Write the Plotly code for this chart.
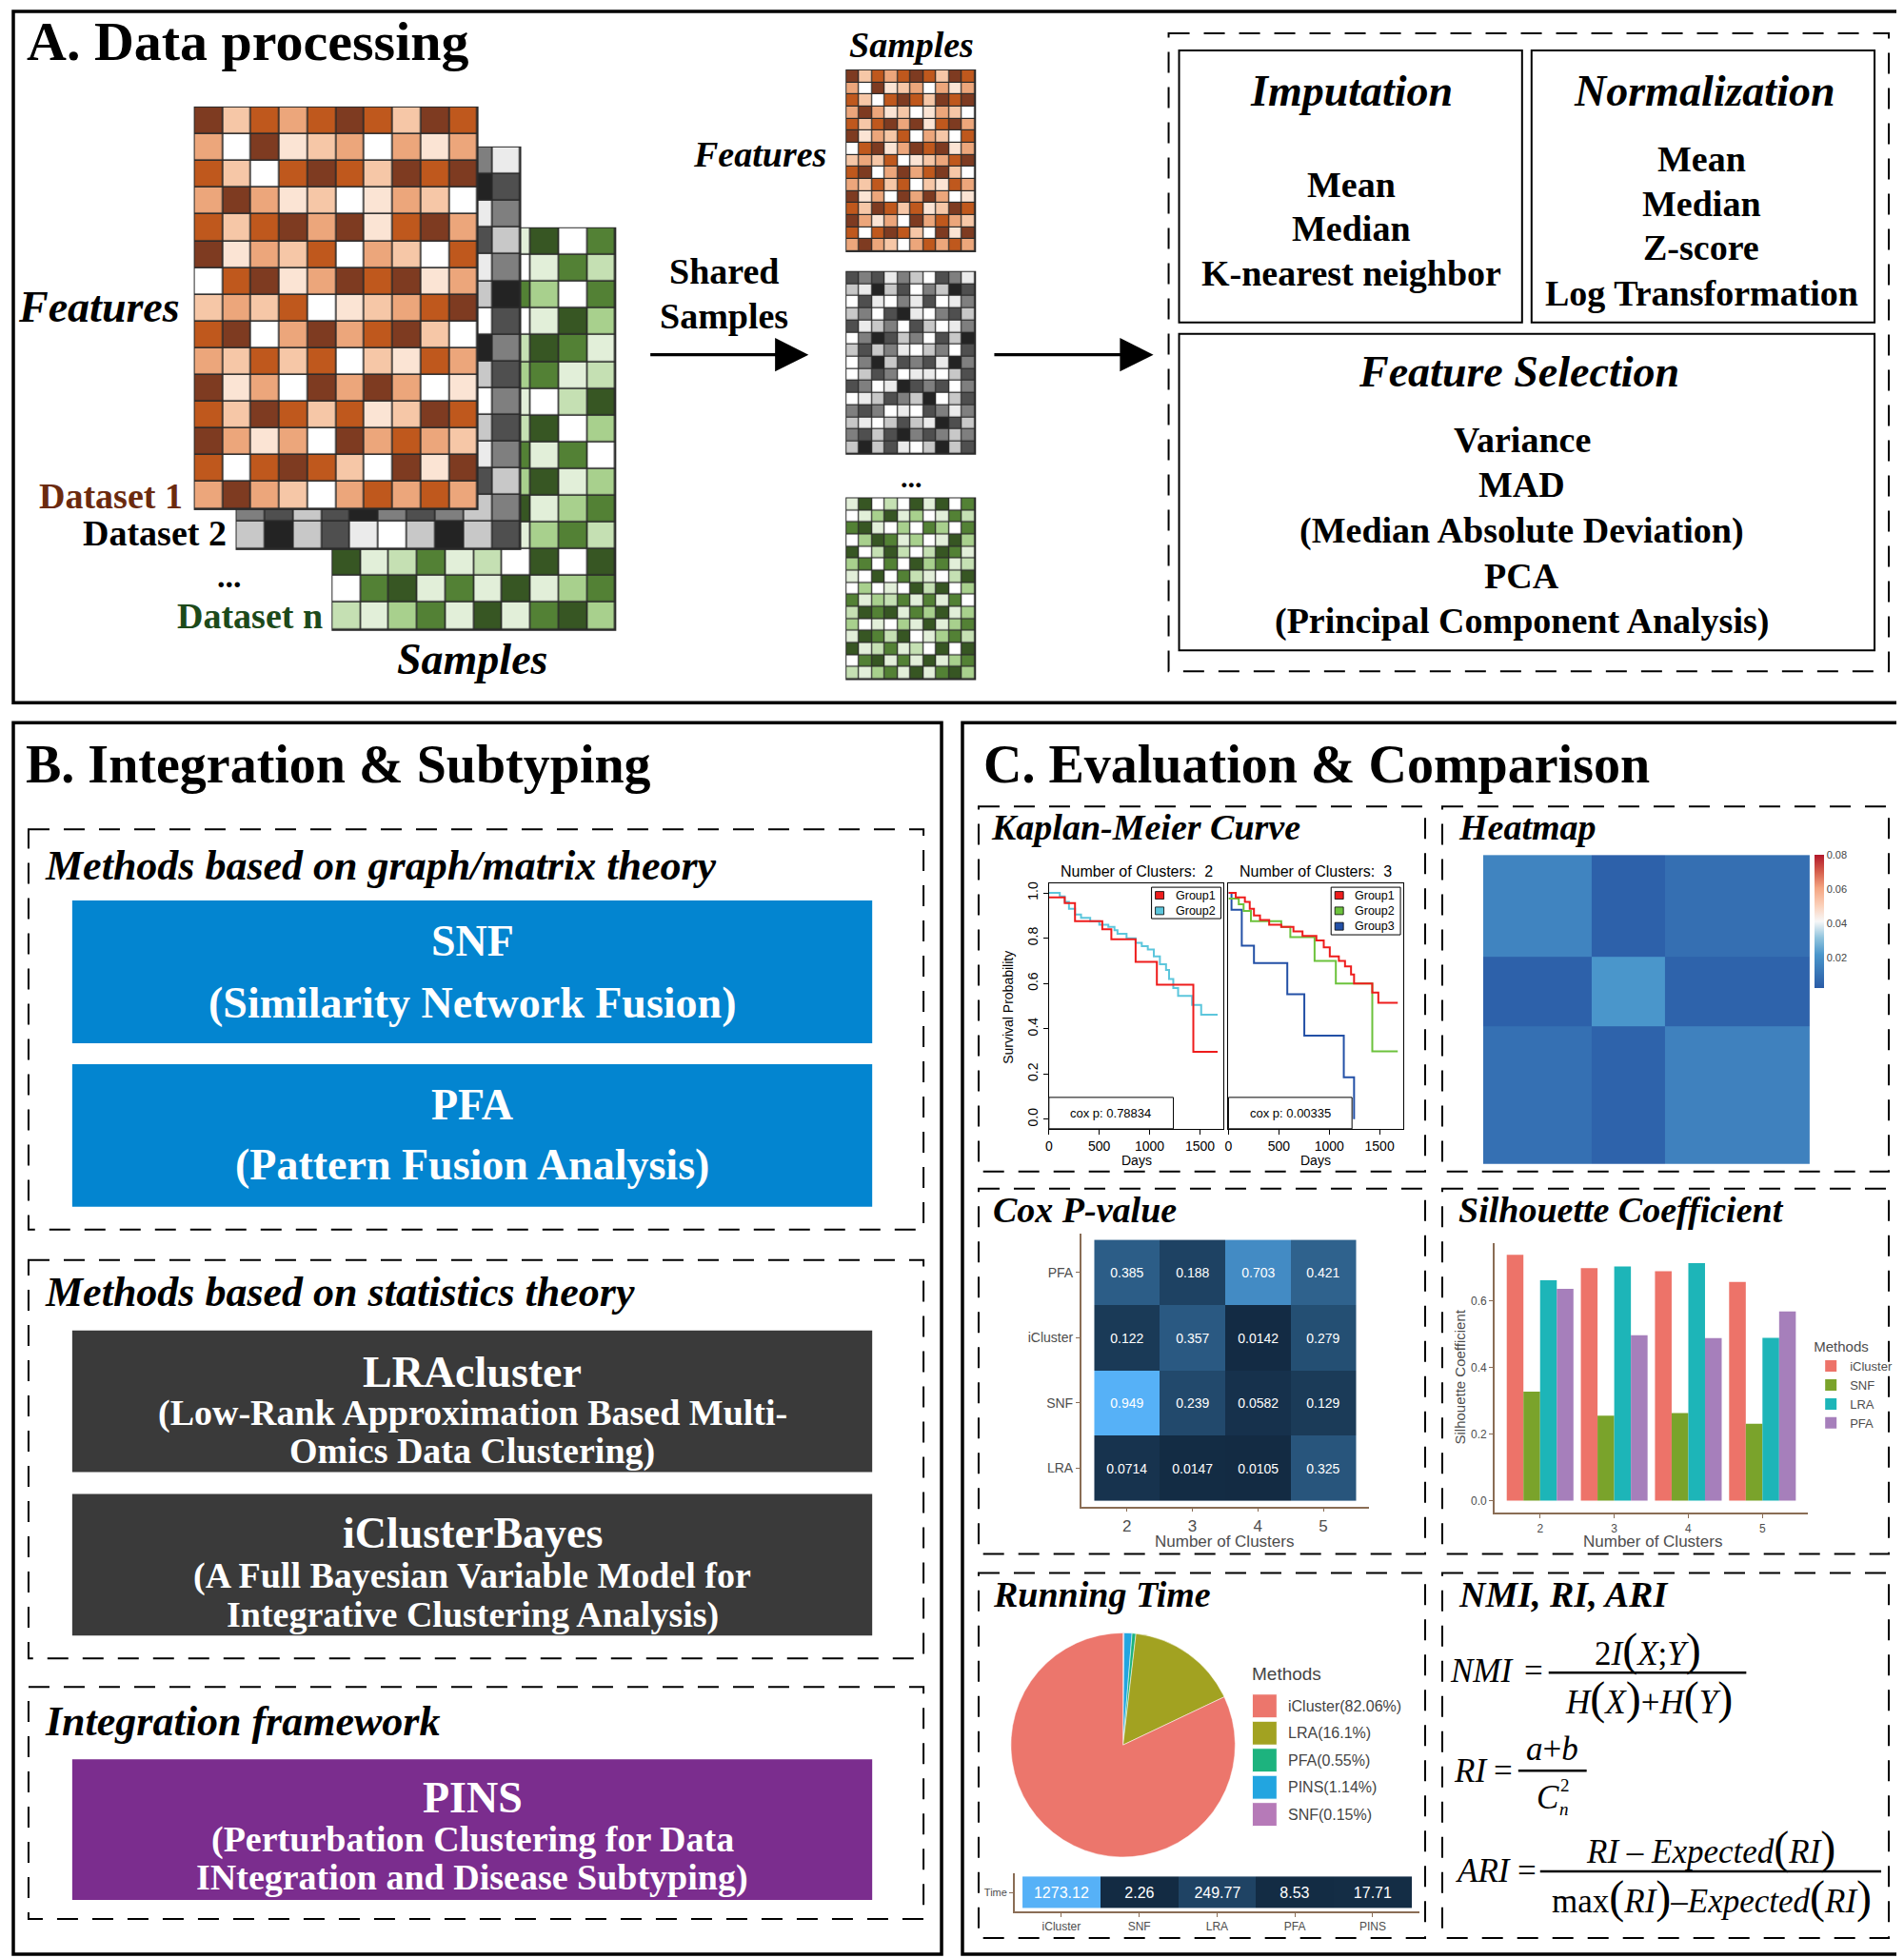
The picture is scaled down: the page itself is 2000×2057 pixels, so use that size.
import plotly.graph_objects as go

# the page body keeps an 8px margin, so the figure is shifted by OFF
OFF = 8
W, H = 2000 - OFF, 2057 - OFF
SERIF = "Liberation Serif"
SANS = "Liberation Sans"
GRID = "#2a2a2a"
AXIS_BROWN = "#8a6d55"
GG_TEXT = "#4d4d4d"

# ---------------- data ----------------
# Panel A: toy omics matrices, colour level of each cell (0 = white ... 5 = darkest)
dataset1_cells = [
    [5, 2, 4, 3, 4, 5, 4, 2, 5, 4],
    [3, 0, 5, 1, 2, 3, 0, 3, 1, 3],
    [4, 2, 0, 4, 5, 4, 2, 5, 4, 5],
    [3, 5, 3, 1, 2, 0, 1, 3, 2, 0],
    [4, 2, 4, 5, 3, 5, 1, 4, 5, 3],
    [5, 1, 3, 2, 4, 0, 3, 2, 0, 4],
    [0, 4, 5, 1, 3, 5, 4, 5, 1, 3],
    [2, 3, 2, 4, 0, 1, 2, 3, 4, 5],
    [4, 5, 0, 3, 5, 3, 4, 5, 2, 0],
    [3, 2, 4, 2, 4, 0, 2, 1, 4, 3],
    [5, 1, 3, 0, 5, 3, 5, 3, 0, 1],
    [4, 2, 5, 4, 2, 4, 1, 2, 5, 4],
    [5, 3, 1, 3, 0, 5, 3, 4, 3, 2],
    [4, 0, 4, 5, 4, 2, 0, 5, 1, 5],
    [3, 5, 3, 2, 0, 3, 4, 3, 4, 3],
]
dataset2_cells = [
    [4, 3, 4, 1, 3, 2, 0, 4, 3, 1],
    [2, 1, 5, 2, 4, 0, 3, 2, 5, 4],
    [0, 4, 1, 0, 3, 1, 4, 0, 1, 3],
    [2, 3, 0, 4, 5, 1, 0, 3, 4, 2],
    [4, 1, 2, 3, 0, 4, 2, 0, 1, 3],
    [0, 3, 5, 4, 2, 3, 0, 4, 2, 5],
    [2, 4, 2, 3, 1, 0, 2, 3, 0, 4],
    [0, 3, 5, 2, 4, 3, 4, 1, 5, 3],
    [0, 2, 4, 3, 0, 1, 1, 0, 2, 4],
    [4, 3, 0, 1, 5, 4, 3, 4, 0, 3],
    [0, 1, 2, 4, 3, 2, 5, 0, 2, 4],
    [3, 4, 3, 0, 1, 0, 4, 3, 1, 3],
    [2, 1, 0, 2, 4, 2, 1, 5, 4, 2],
    [3, 4, 2, 4, 5, 3, 4, 3, 2, 3],
    [2, 5, 2, 4, 1, 0, 2, 5, 2, 4],
]
datasetn_cells = [
    [1, 5, 0, 2, 0, 5, 1, 5, 0, 4],
    [0, 1, 3, 5, 1, 3, 0, 1, 4, 2],
    [4, 5, 1, 0, 3, 0, 4, 3, 0, 4],
    [0, 3, 5, 4, 1, 3, 0, 1, 5, 3],
    [5, 0, 2, 5, 2, 0, 2, 5, 4, 1],
    [3, 4, 0, 4, 0, 5, 3, 4, 1, 2],
    [1, 0, 5, 0, 4, 2, 1, 0, 2, 5],
    [0, 3, 0, 1, 0, 5, 2, 5, 0, 3],
    [4, 1, 3, 2, 4, 1, 4, 1, 4, 0],
    [2, 5, 4, 5, 1, 4, 3, 5, 1, 3],
    [3, 0, 1, 0, 3, 1, 5, 1, 3, 4],
    [1, 5, 4, 2, 5, 0, 1, 3, 4, 2],
    [5, 1, 2, 4, 1, 2, 0, 5, 0, 5],
    [0, 4, 5, 1, 4, 1, 5, 1, 3, 4],
    [2, 1, 3, 4, 1, 5, 1, 4, 5, 3],
]
orange_levels = ["#ffffff", "#fbe4d4", "#f6c7a7", "#eca67b", "#bf581d", "#7e3b21"]
gray_levels = ["#ffffff", "#ebebeb", "#c8c8c8", "#7f7f7f", "#4f4f4f", "#232323"]
green_levels = ["#ffffff", "#e2efd9", "#c5e0b3", "#a8d08d", "#538135", "#375623"]

# Kaplan-Meier curves (days, survival probability)
km2_g1_days = [0, 157, 259, 530, 620, 861, 1072, 1434, 1675]
km2_g1_surv = [0.98, 0.955, 0.875, 0.84, 0.795, 0.695, 0.595, 0.298, 0.298]
km2_g2_days = [0, 108, 157, 199, 259, 319, 410, 500, 590, 651, 681, 771, 861, 922,
               982, 1042, 1102, 1163, 1193, 1235, 1283, 1422, 1512, 1675]
km2_g2_surv = [1.0, 0.985, 0.96, 0.93, 0.905, 0.89, 0.875, 0.86, 0.85, 0.835, 0.82, 0.80,
               0.78, 0.765, 0.75, 0.72, 0.685, 0.66, 0.62, 0.58, 0.545, 0.505, 0.462, 0.462]
km3_g1_days = [0, 72, 163, 211, 253, 313, 404, 524, 645, 735, 873, 946, 1006, 1096,
               1157, 1217, 1247, 1428, 1488, 1681]
km3_g1_surv = [1.0, 0.98, 0.96, 0.93, 0.90, 0.88, 0.86, 0.85, 0.83, 0.81, 0.79, 0.76,
               0.72, 0.70, 0.675, 0.64, 0.60, 0.56, 0.515, 0.515]
km3_g2_days = [0, 102, 150, 223, 524, 614, 855, 1066, 1428, 1681]
km3_g2_surv = [0.975, 0.95, 0.92, 0.875, 0.85, 0.805, 0.70, 0.60, 0.30, 0.30]
km3_g3_days = [0, 30, 132, 253, 584, 753, 1145, 1247]
km3_g3_surv = [1.0, 0.926, 0.767, 0.69, 0.552, 0.369, 0.185, 0.0]
km_pvalues = ["0.78834", "0.00335"]

# consensus heatmap, block means (three clusters)
sim_edges = [0, 0.331, 0.555, 1.0]
sim_blocks = [
    [0.0155, 0.004, 0.0085],
    [0.004, 0.0215, 0.0045],
    [0.009, 0.0045, 0.0145],
]

# Cox p-values (rows bottom -> top)
cox_methods = ["LRA", "SNF", "iCluster", "PFA"]
cox_clusters = ["2", "3", "4", "5"]
cox_p = [
    [0.0714, 0.0147, 0.0105, 0.325],
    [0.949, 0.239, 0.0582, 0.129],
    [0.122, 0.357, 0.0142, 0.279],
    [0.385, 0.188, 0.703, 0.421],
]

# Silhouette coefficient
sil_clusters = [2, 3, 4, 5]
sil_icluster = [0.738, 0.698, 0.689, 0.657]
sil_snf = [0.327, 0.255, 0.263, 0.231]
sil_lra = [0.662, 0.703, 0.713, 0.489]
sil_pfa = [0.636, 0.497, 0.488, 0.568]

# Running time
time_methods = ["iCluster", "SNF", "LRA", "PFA", "PINS"]
time_values = [1273.12, 2.26, 249.77, 8.53, 17.71]
pie_methods = ["iCluster", "LRA", "PFA", "PINS", "SNF"]
pie_pct = [82.06, 16.1, 0.55, 1.14, 0.15]
pie_colors = ["#ec766c", "#a2a221", "#1db37e", "#22a5e0", "#b67ab8"]

GG_BLUE = [[0, "#132B43"], [0.25, "#224a6d"], [0.5, "#336a98"], [0.75, "#448dc6"], [1, "#56B1F7"]]
RDBU = [[0, "#2a5ba6"], [0.25, "#4a96cb"], [0.38, "#92c5de"], [0.5, "#f7f7f7"],
        [0.62, "#fbd0b9"], [0.75, "#f4a582"], [0.87, "#d6604d"], [1, "#b2182b"]]


def dom_x(a, b):
    return [(a - OFF) / W, (b - OFF) / W]


def dom_y(a, b):
    return [1 - (b - OFF) / H, 1 - (a - OFF) / H]


fig = go.Figure()


def add_matrix(cells, levels, left, top, width, height, gap):
    nrow, ncol = len(cells), len(cells[0])
    cw, ch = width / ncol, height / nrow
    fig.add_trace(go.Heatmap(z=[[0]], x0=left + width / 2, dx=width + 2,
                             y0=top + height / 2, dy=height + 2,
                             colorscale=[[0, GRID], [1, GRID]], zmin=0, zmax=1,
                             showscale=False, hoverinfo="skip"))
    fig.add_trace(go.Heatmap(z=cells, x0=left + cw / 2, dx=cw, y0=top + ch / 2, dy=ch,
                             colorscale=[[i / (len(levels) - 1), c] for i, c in enumerate(levels)],
                             zmin=0, zmax=len(levels) - 1, xgap=gap, ygap=gap,
                             showscale=False, hoverinfo="skip"))


# stacked datasets (back to front) and the shared-sample matrices
add_matrix(datasetn_cells, green_levels, 346, 238, 298, 422, 1.6)
add_matrix(dataset2_cells, gray_levels, 245, 153, 299, 422, 1.6)
add_matrix(dataset1_cells, orange_levels, 201, 111, 298, 422, 1.6)
add_matrix(dataset1_cells, orange_levels, 887, 72, 135, 190, 1.2)
add_matrix(dataset2_cells, gray_levels, 887, 284, 135, 191, 1.2)
add_matrix(datasetn_cells, green_levels, 887, 522, 135, 190, 1.2)

# Kaplan-Meier
KM_RED, KM_CYAN, KM_GREEN, KM_BLUE = "#ee1c1c", "#5cc6dc", "#6cc23c", "#2350a6"
for d, s, c, xa, ya in [
    (km2_g2_days, km2_g2_surv, KM_CYAN, "x2", "y2"),
    (km2_g1_days, km2_g1_surv, KM_RED, "x2", "y2"),
    (km3_g3_days, km3_g3_surv, KM_BLUE, "x3", "y3"),
    (km3_g2_days, km3_g2_surv, KM_GREEN, "x3", "y3"),
    (km3_g1_days, km3_g1_surv, KM_RED, "x3", "y3"),
]:
    fig.add_trace(go.Scatter(x=d, y=s, mode="lines", line=dict(color=c, width=2, shape="hv"),
                             xaxis=xa, yaxis=ya, showlegend=False, hoverinfo="skip"))

# consensus heatmap
fig.add_trace(go.Heatmap(z=sim_blocks, x=sim_edges, y=sim_edges, colorscale=RDBU,
                         zmin=0.002, zmax=0.08, xaxis="x4", yaxis="y4", hoverinfo="skip",
                         colorbar=dict(x=(1906 - OFF) / W, xanchor="left", y=1 - (897 - OFF) / H,
                                       yanchor="top", len=140, lenmode="pixels", thickness=10,
                                       xpad=0, ypad=0, outlinewidth=0,
                                       tickvals=[0.02, 0.04, 0.06, 0.08], ticks="",
                                       tickfont=dict(family=SANS, size=11, color="#444"))))

# Cox p-value heatmap
fig.add_trace(go.Heatmap(z=cox_p, x=cox_clusters, y=cox_methods, colorscale=GG_BLUE,
                         showscale=False, xaxis="x5", yaxis="y5", hoverinfo="skip",
                         text=[[str(v) for v in row] for row in cox_p], texttemplate="%{text}",
                         textfont=dict(family=SANS, size=14, color="white")))

# Silhouette bars
for name, vals, col in [("iCluster", sil_icluster, "#ed7369"), ("SNF", sil_snf, "#7aa32b"),
                        ("LRA", sil_lra, "#1db5b8"), ("PFA", sil_pfa, "#a67fbb")]:
    fig.add_trace(go.Bar(x=sil_clusters, y=vals, name=name, marker=dict(color=col, line=dict(width=0)),
                         xaxis="x6", yaxis="y6", hoverinfo="skip"))

# Running time strip
fig.add_trace(go.Heatmap(z=[time_values], x=time_methods, y=["Time"], colorscale=GG_BLUE,
                         showscale=False, xaxis="x7", yaxis="y7", hoverinfo="skip",
                         text=[[str(v) for v in time_values]], texttemplate="%{text}",
                         textfont=dict(family=SANS, size=16, color="white")))

# Running time pie (slices clockwise from 12 o'clock: SNF, PINS, PFA, LRA, iCluster)
fig.add_trace(go.Pie(values=pie_pct[::-1], labels=pie_methods[::-1],
                     marker=dict(colors=pie_colors[::-1], line=dict(color="white", width=0.5)),
                     sort=False, direction="clockwise", rotation=0, textinfo="none",
                     showlegend=False, hoverinfo="skip",
                     domain=dict(x=dom_x(1060, 1296), y=dom_y(1715, 1951))))

# ---------------- shapes ----------------
shapes = []


def rect(x0, y0, x1, y1, color="black", width=2, dash=None, fill=None, layer="above"):
    line = dict(color=color, width=width)
    if dash:
        line["dash"] = dash
    shapes.append(dict(type="rect", xref="x", yref="y", x0=x0, y0=y0, x1=x1, y1=y1,
                       line=line, fillcolor=fill if fill else "rgba(0,0,0,0)", layer=layer))


def hline(x0, x1, y, width=2.5):
    shapes.append(dict(type="line", xref="x", yref="y", x0=x0, x1=x1, y0=y, y1=y,
                       line=dict(color="black", width=width)))


DASH = "22px,15px"
# panel frames
rect(10, 10, 1997, 737, width=3.5)
rect(10, 758, 987, 2053, width=3.5)
rect(1009, 758, 1997, 2053, width=3.5)
# panel A processing boxes
rect(1226, 33, 1984, 704, width=2, dash=DASH)
rect(1237, 51, 1598, 337, width=2)
rect(1608, 51, 1969, 337, width=2)
rect(1237, 349, 1969, 682, width=2)
# panel B groups
rect(26, 870, 968, 1291, width=2, dash=DASH)
rect(26, 1323, 968, 1742, width=2, dash=DASH)
rect(26, 1772, 968, 2016, width=2, dash=DASH)
rect(72, 945, 914, 1095, color="#0385d0", width=0, fill="#0385d0", layer="below")
rect(72, 1117, 914, 1267, color="#0385d0", width=0, fill="#0385d0", layer="below")
rect(72, 1397, 914, 1546, color="#3a3a3a", width=0, fill="#3a3a3a", layer="below")
rect(72, 1569, 914, 1718, color="#3a3a3a", width=0, fill="#3a3a3a", layer="below")
rect(72, 1848, 914, 1996, color="#7b2d8e", width=0, fill="#7b2d8e", layer="below")
# panel C sub boxes
for (a, b, c, d) in [(1026, 846, 1496, 1230), (1514, 846, 1984, 1230),
                     (1026, 1248, 1496, 1632), (1514, 1248, 1984, 1632),
                     (1026, 1652, 1496, 2036), (1514, 1652, 1984, 2036)]:
    rect(a, b, c, d, width=2, dash=DASH)
# KM legends and p-value boxes
rect(1208, 931, 1281, 964, width=1, fill="white")
rect(1397, 931, 1470, 981, width=1, fill="white")
rect(1100, 1152, 1231, 1185, width=1, fill="white")
rect(1289, 1152, 1419, 1185, width=1, fill="white")
# fraction bars
hline(1626, 1834, 1757)
hline(1594, 1666, 1860)
hline(1617, 1976, 1966)

# ---------------- annotations ----------------
ann = []


def txt(x, y, s, size, bold=False, italic=False, color="black", family=SERIF, xanchor="center", angle=0):
    t = s
    if italic:
        t = "<i>" + t + "</i>"
    if bold:
        t = "<b>" + t + "</b>"
    ann.append(dict(x=x, y=y, xref="x", yref="y", text=t, showarrow=False, textangle=angle,
                    font=dict(family=family, size=size, color=color), xanchor=xanchor, yanchor="middle"))


# panel A
txt(22, 42, "A. Data processing", 58, bold=True, xanchor="left")
txt(100, 321, "Features", 46, bold=True, italic=True)
txt(190, 519, "Dataset 1", 38, bold=True, color="#6b2a0e", xanchor="right")
txt(236, 559, "Dataset 2", 38, bold=True, xanchor="right")
txt(237, 604, "...", 34, bold=True)
txt(338, 646, "Dataset n", 38, bold=True, color="#1d4a1a", xanchor="right")
txt(493, 691, "Samples", 46, bold=True, italic=True)
txt(955, 45, "Samples", 38, bold=True, italic=True)
txt(868, 160, "Features", 38, bold=True, italic=True, xanchor="right")
txt(758, 283, "Shared", 38, bold=True)
txt(758, 330, "Samples", 38, bold=True)
txt(955, 500, "...", 30, bold=True)
txt(1418, 94, "Imputation", 46, bold=True, italic=True)
for yy, s in zip([192, 238, 285], ["Mean", "Median", "K-nearest neighbor"]):
    txt(1418, yy, s, 38, bold=True)
txt(1790, 94, "Normalization", 46, bold=True, italic=True)
for yy, s in zip([165, 212, 258, 306], ["Mean", "Median", "Z-score", "Log Transformation"]):
    txt(1787, yy, s, 38, bold=True)
txt(1595, 389, "Feature Selection", 46, bold=True, italic=True)
for yy, s in zip([460, 507, 556, 604, 651], ["Variance", "MAD", "(Median Absolute Deviation)", "PCA",
                                              "(Principal Component Analysis)"]):
    txt(1598, yy, s, 38, bold=True)

# arrows
for x_tail, x_tip in [(679, 847), (1041, 1210)]:
    ann.append(dict(x=x_tip, y=371, ax=x_tail, ay=371, xref="x", yref="y", axref="x", ayref="y",
                    text="", showarrow=True, arrowhead=2, arrowsize=2.2, arrowwidth=3.2, arrowcolor="black"))

# panel B
txt(21, 802, "B. Integration &amp; Subtyping", 56, bold=True, xanchor="left")
txt(41, 908, "Methods based on graph/matrix theory", 44, bold=True, italic=True, xanchor="left")
txt(41, 1357, "Methods based on statistics theory", 44, bold=True, italic=True, xanchor="left")
txt(41, 1808, "Integration framework", 44, bold=True, italic=True, xanchor="left")
for yy, s, sz in [(987, "SNF", 46), (1053, "(Similarity Network Fusion)", 46),
                  (1160, "PFA", 46), (1223, "(Pattern Fusion Analysis)", 46),
                  (1441, "LRAcluster", 46), (1484, "(Low-Rank Approximation Based Multi-", 38),
                  (1524, "Omics Data Clustering)", 38),
                  (1610, "iClusterBayes", 46), (1655, "(A Full Bayesian Variable Model for", 38),
                  (1696, "Integrative Clustering Analysis)", 38),
                  (1888, "PINS", 46), (1932, "(Perturbation Clustering for Data", 38),
                  (1972, "INtegration and Disease Subtyping)", 38)]:
    txt(493, yy, s, sz, bold=True, color="white")

# panel C titles
txt(1029, 802, "C. Evaluation &amp; Comparison", 56, bold=True, xanchor="left")
txt(1037, 868, "Kaplan-Meier Curve", 38, bold=True, italic=True, xanchor="left")
txt(1529, 868, "Heatmap", 38, bold=True, italic=True, xanchor="left")
txt(1039, 1270, "Cox P-value", 38, bold=True, italic=True, xanchor="left")
txt(1529, 1270, "Silhouette Coefficient", 38, bold=True, italic=True, xanchor="left")
txt(1039, 1675, "Running Time", 38, bold=True, italic=True, xanchor="left")
txt(1529, 1675, "NMI, RI, ARI", 38, bold=True, italic=True, xanchor="left")

# KM texts
txt(1192, 914, "Number of Clusters:  2", 16, family=SANS)
txt(1381, 914, "Number of Clusters:  3", 16, family=SANS)
txt(1192, 1218, "Days", 14, family=SANS)
txt(1381, 1218, "Days", 14, family=SANS)
txt(1057, 1057, "Survival Probability", 14, family=SANS, angle=-90)
txt(1165, 1169, "cox p: " + km_pvalues[0], 13, family=SANS)
txt(1354, 1169, "cox p: " + km_pvalues[1], 13, family=SANS)
for x0, y0, groups in [(1212, 939.5, [("Group1", KM_RED), ("Group2", KM_CYAN)]),
                       (1401, 939.5, [("Group1", KM_RED), ("Group2", KM_GREEN), ("Group3", KM_BLUE)])]:
    for i, (g, c) in enumerate(groups):
        yy = y0 + i * 16.3
        rect(x0, yy - 4, x0 + 9, yy + 4, width=0.8, fill=c)
        txt(x0 + 19, yy, g, 12.5, family=SANS, xanchor="left")

# ggplot axis titles
txt(1285, 1619, "Number of Clusters", 17, family=SANS, color=GG_TEXT)
txt(1735, 1619, "Number of Clusters", 17, family=SANS, color=GG_TEXT)
txt(1533, 1446, "Silhouette Coefficient", 15, family=SANS, color=GG_TEXT, angle=-90)

# pie legend
txt(1312, 1758, "Methods", 19, family=SANS, color="#444", xanchor="left")
for i, (m, p, c) in enumerate(zip(pie_methods, pie_pct, pie_colors)):
    yy = 1792 + i * 28.5
    rect(1314, yy - 12.5, 1340, yy + 12.5, color="white", width=1, fill=c)
    txt(1350, yy, "%s(%s%%)" % (m, p), 16, family=SANS, color="#444", xanchor="left")

# formulas
PL = "<span style='font-size:48px'>(</span>"
PR = "<span style='font-size:48px'>)</span>"
FS = 35
txt(1556, 1755, "<i>NMI</i>", FS)
txt(1610, 1755, "=", FS)
txt(1730, 1733, "2<i>I</i>" + PL + "<i>X</i>;<i>Y</i>" + PR, FS)
txt(1731, 1784, "<i>H</i>" + PL + "<i>X</i>" + PR + "+<i>H</i>" + PL + "<i>Y</i>" + PR, FS)
txt(1544, 1860, "<i>RI</i>", FS)
txt(1578, 1860, "=", FS)
txt(1630, 1837, "<i>a</i>+<i>b</i>", FS)
txt(1625, 1888, "<i>C</i>", FS)
txt(1643, 1875, "2", 19)
txt(1642, 1900, "<i>n</i>", 19)
txt(1558, 1965, "<i>ARI</i>", FS)
txt(1603, 1965, "=", FS)
txt(1797, 1941, "<i>RI</i> \u2013 <i>Expected</i>" + PL + "<i>RI</i>" + PR, FS)
txt(1798, 1993, "max" + PL + "<i>RI</i>" + PR + "\u2013<i>Expected</i>" + PL + "<i>RI</i>" + PR, FS)

# ---------------- axes ----------------
km_x = dict(range=[0, 1736], tickvals=[0, 500, 1000, 1500], ticks="outside", ticklen=5,
            tickcolor="black", showline=True, mirror=True, linecolor="black", linewidth=1.2,
            showgrid=False, zeroline=False, fixedrange=True,
            tickfont=dict(family=SANS, size=14, color="black"))
km_y = dict(range=[-0.042, 1.042], showline=True, mirror=True, linecolor="black", linewidth=1.2,
            showgrid=False, zeroline=False, fixedrange=True)
gg_axis = dict(showline=True, linecolor=AXIS_BROWN, linewidth=1.6, ticks="outside",
               tickcolor=AXIS_BROWN, tickwidth=1.4, showgrid=False, zeroline=False, fixedrange=True)

fig.update_layout(
    width=W, height=H, margin=dict(l=0, r=0, t=0, b=0),
    paper_bgcolor="white", plot_bgcolor="rgba(0,0,0,0)",
    barmode="group", bargap=0.1, bargroupgap=0,
    showlegend=True,
    legend=dict(x=(1903 - OFF) / W, y=1 - (1400 - OFF) / H, xanchor="left", yanchor="top",
                title=dict(text="Methods", font=dict(family=SANS, size=15, color=GG_TEXT)),
                font=dict(family=SANS, size=13, color=GG_TEXT), bgcolor="rgba(0,0,0,0)",
                tracegroupgap=0, itemwidth=30),
    shapes=shapes, annotations=ann,
    xaxis=dict(domain=[0, 1], range=[OFF, OFF + W], visible=False, fixedrange=True),
    yaxis=dict(domain=[0, 1], range=[OFF + H, OFF], visible=False, fixedrange=True),
    xaxis2=dict(domain=dom_x(1100, 1284), anchor="y2", **km_x),
    yaxis2=dict(domain=dom_y(927, 1185), anchor="x2", tickvals=[0, 0.2, 0.4, 0.6, 0.8, 1.0],
                ticktext=["0.0", "0.2", "0.4", "0.6", "0.8", "1.0"], tickangle=-90, ticks="outside",
                ticklen=5, tickcolor="black", tickfont=dict(family=SANS, size=14, color="black"), **km_y),
    xaxis3=dict(domain=dom_x(1289, 1473), anchor="y3", **km_x),
    yaxis3=dict(domain=dom_y(927, 1185), anchor="x3", showticklabels=False, ticks="", **km_y),
    xaxis4=dict(domain=dom_x(1557, 1901), anchor="y4", range=[0, 1], visible=False, fixedrange=True),
    yaxis4=dict(domain=dom_y(897, 1222), anchor="x4", range=[1, 0], visible=False, fixedrange=True),
    xaxis5=dict(domain=dom_x(1134, 1437), anchor="y5", type="category", categoryorder="array",
                categoryarray=cox_clusters, range=[-0.7, 3.7], ticklen=3,
                tickfont=dict(family=SANS, size=17, color=GG_TEXT), **gg_axis),
    yaxis5=dict(domain=dom_y(1295, 1583), anchor="x5", type="category", categoryorder="array",
                categoryarray=cox_methods, range=[-0.6, 3.6], ticklen=4,
                tickfont=dict(family=SANS, size=14, color=GG_TEXT), **gg_axis),
    xaxis6=dict(domain=dom_x(1569, 1899), anchor="y6", range=[1.385, 5.615], tickvals=sil_clusters,
                ticklen=4, tickfont=dict(family=SANS, size=12, color=GG_TEXT), **gg_axis),
    yaxis6=dict(domain=dom_y(1305, 1589), anchor="x6", range=[-0.037, 0.774],
                tickvals=[0, 0.2, 0.4, 0.6], ticktext=["0.0", "0.2", "0.4", "0.6"], ticklen=4,
                tickfont=dict(family=SANS, size=12, color=GG_TEXT), **gg_axis),
    xaxis7=dict(domain=dom_x(1064, 1490), anchor="y7", type="category", categoryorder="array",
                categoryarray=time_methods, range=[-0.6, 4.6], ticklen=4,
                tickfont=dict(family=SANS, size=12, color=GG_TEXT), **gg_axis),
    yaxis7=dict(domain=dom_y(1968, 2008), anchor="x7", type="category", range=[-0.6, 0.6],
                ticklen=4, tickfont=dict(family=SANS, size=11, color=GG_TEXT), **gg_axis),
)

fig.write_html("out.html")
